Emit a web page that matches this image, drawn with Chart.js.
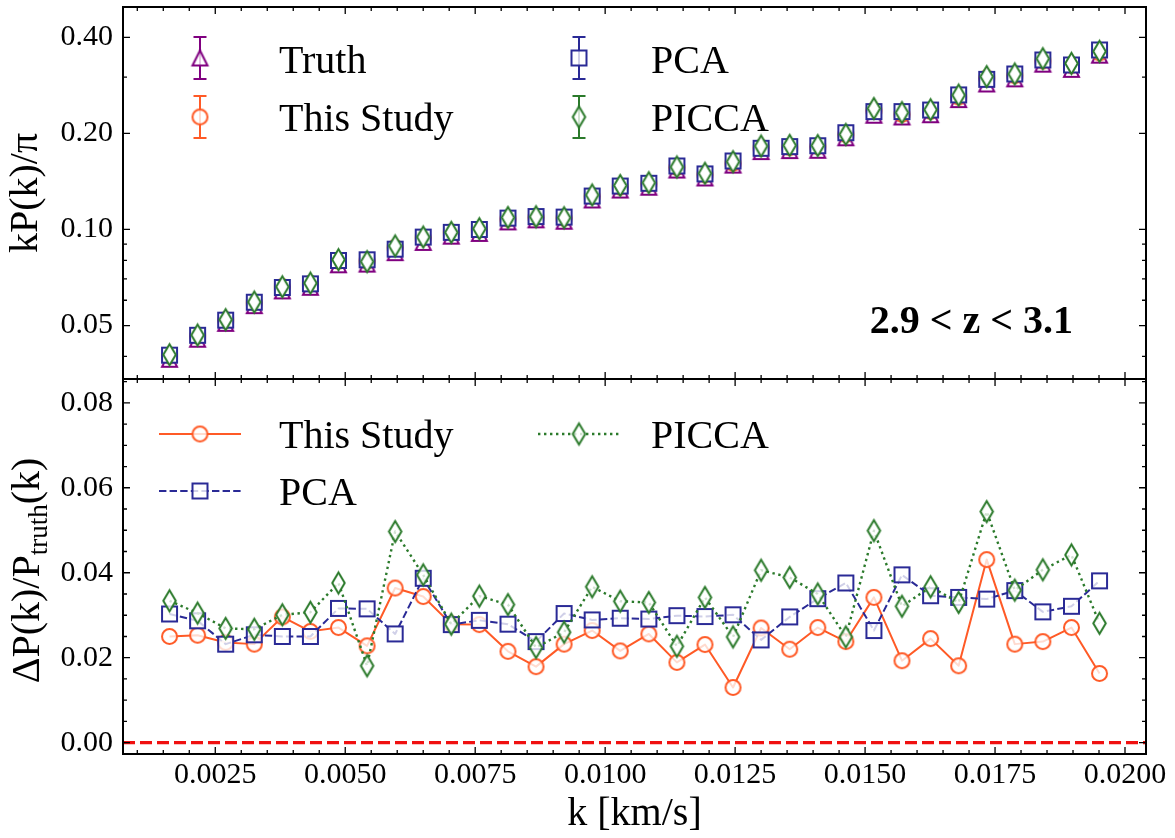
<!DOCTYPE html>
<html>
<head>
<meta charset="utf-8">
<script src="https://cdn.jsdelivr.net/npm/chart.js@4/dist/chart.umd.min.js"></script>
<style>
  html, body { margin: 0; padding: 0; background: #fff; }
  #wrap { position: relative; width: 1175px; height: 838px; }
  #wrap canvas { position: absolute; left: 0; top: 0; }
</style>
</head>
<body>
<div id="wrap">
  <canvas id="panelTop" width="1175" height="838"></canvas>
  <canvas id="panelBottom" width="1175" height="838"></canvas>
</div>
<script>
// ---- data -------------------------------------------------------------
// wavenumber bins, k [s/km]
const kBins = [0.00162, 0.00216, 0.00270, 0.00325, 0.00379, 0.00433, 0.00487, 0.00542,
               0.00596, 0.00650, 0.00704, 0.00758, 0.00813, 0.00867, 0.00921, 0.00975,
               0.01029, 0.01084, 0.01138, 0.01192, 0.01246, 0.01300, 0.01355, 0.01409,
               0.01463, 0.01517, 0.01571, 0.01626, 0.01680, 0.01734, 0.01788, 0.01842,
               0.01897, 0.01951];
// true flux power, kP(k)/pi
const kpTruth = [0.0392, 0.0453, 0.0508, 0.0577, 0.0642, 0.0659, 0.0775, 0.0779,
                 0.0846, 0.0911, 0.0953, 0.0972, 0.1056, 0.1072, 0.1061, 0.1237,
                 0.1329, 0.1356, 0.1535, 0.1450, 0.1591, 0.1754, 0.1766, 0.1770,
                 0.1937, 0.2280, 0.2251, 0.2288, 0.2552, 0.2857, 0.2964, 0.3295,
                 0.3174, 0.3516];
// fractional deviation from the truth, dP(k)/P_truth(k)
const dThisStudy = [0.0250, 0.0253, 0.0236, 0.0232, 0.0296, 0.0262, 0.0271, 0.0228,
                    0.0364, 0.0344, 0.0279, 0.0278, 0.0215, 0.0179, 0.0232, 0.0264,
                    0.0216, 0.0256, 0.0189, 0.0231, 0.0130, 0.0270, 0.0220, 0.0271,
                    0.0238, 0.0342, 0.0193, 0.0245, 0.0181, 0.0431, 0.0232, 0.0238,
                    0.0271, 0.0163];
const dPCA = [0.0303, 0.0287, 0.0232, 0.0254, 0.0250, 0.0250, 0.0316, 0.0315,
              0.0256, 0.0387, 0.0278, 0.0288, 0.0279, 0.0238, 0.0304, 0.0289,
              0.0293, 0.0291, 0.0299, 0.0297, 0.0301, 0.0242, 0.0296, 0.0339,
              0.0376, 0.0264, 0.0395, 0.0346, 0.0342, 0.0338, 0.0358, 0.0308,
              0.0321, 0.0381];
const dPICCA = [0.0334, 0.0305, 0.0269, 0.0267, 0.0301, 0.0307, 0.0376, 0.0181,
                0.0497, 0.0395, 0.0279, 0.0345, 0.0325, 0.0224, 0.0260, 0.0367,
                0.0333, 0.0330, 0.0227, 0.0342, 0.0249, 0.0406, 0.0389, 0.0350,
                0.0249, 0.0499, 0.0321, 0.0367, 0.0330, 0.0544, 0.0359, 0.0407,
                0.0442, 0.0281];
const zeroLevel = 0.0;

// ---- ticks ------------------------------------------------------------
const kTicks = [0.0025, 0.0050, 0.0075, 0.0100, 0.0125, 0.0150, 0.0175, 0.0200];
const kMinorTicks = [0.0010, 0.0015, 0.0020, 0.0030, 0.0035, 0.0040, 0.0045,
                     0.0055, 0.0060, 0.0065, 0.0070, 0.0080, 0.0085, 0.0090, 0.0095,
                     0.0105, 0.0110, 0.0115, 0.0120, 0.0130, 0.0135, 0.0140, 0.0145,
                     0.0155, 0.0160, 0.0165, 0.0170, 0.0180, 0.0185, 0.0190, 0.0195];
const kpTicks = [0.05, 0.10, 0.20, 0.40];
const kpMinorTicks = [0.04, 0.06, 0.07, 0.08, 0.09, 0.30];
const dTicks = [0.00, 0.02, 0.04, 0.06, 0.08];
const dMinorTicks = [0.005, 0.010, 0.015, 0.025, 0.030, 0.035, 0.045, 0.050, 0.055,
                     0.065, 0.070, 0.075, 0.085];

// ---- axis limits ------------------------------------------------------
const K_MIN = 0.000725, K_MAX = 0.020404;
const KP_MIN = 0.034, KP_MAX = 0.4977;
const D_MIN = -0.00266, D_MAX = 0.0856;

// ---- styling ----------------------------------------------------------
const SERIF = "'Liberation Serif', 'Times New Roman', Times, serif";
const PURPLE = '#800080';
const ORANGE = '#ff5a26';
const BLUE = '#2a2a96';
const GREEN = '#2b7a2b';
const RED = '#f01010';
const FACE_SOFT = 'rgba(255, 255, 255, 0.78)';
const FACE_SOLID = '#ffffff';

Chart.defaults.font.family = SERIF;
Chart.defaults.color = '#000';

// hollow marker glyphs rendered once and reused as point styles
function makeMarker(shape, stroke, w, h, lw, face) {
  const pad = Math.ceil(lw) + 1;
  const c = document.createElement('canvas');
  c.width = Math.round(w + 2 * pad);
  c.height = Math.round(h + 2 * pad);
  const g = c.getContext('2d');
  const cx = c.width / 2, cy = c.height / 2;
  g.lineWidth = lw;
  g.strokeStyle = stroke;
  g.fillStyle = face;
  g.lineJoin = 'miter';
  g.beginPath();
  if (shape === 'circle') {
    g.arc(cx, cy, w / 2, 0, Math.PI * 2);
  } else if (shape === 'square') {
    g.rect(cx - w / 2, cy - h / 2, w, h);
  } else if (shape === 'diamond') {
    g.moveTo(cx, cy - h / 2); g.lineTo(cx + w / 2, cy);
    g.lineTo(cx, cy + h / 2); g.lineTo(cx - w / 2, cy); g.closePath();
  } else if (shape === 'triangle') {
    g.moveTo(cx, cy - h / 2); g.lineTo(cx + w / 2, cy + h / 2);
    g.lineTo(cx - w / 2, cy + h / 2); g.closePath();
  }
  g.fill();
  g.stroke();
  return c;
}

// lower panel / legend glyphs (lines faintly visible through the faces)
const mkTruth = makeMarker('triangle', PURPLE, 15, 15, 2, FACE_SOFT);
const mkThis = makeMarker('circle', ORANGE, 15, 15, 2, FACE_SOFT);
const mkPCA = makeMarker('square', BLUE, 15, 15, 2, FACE_SOFT);
const mkPICCA = makeMarker('diamond', GREEN, 12.5, 21, 2, FACE_SOFT);
// upper panel glyphs, opaque faces so later series cover earlier ones
const pkTruth = makeMarker('triangle', PURPLE, 15, 15, 2, FACE_SOLID);
const pkThis = makeMarker('circle', ORANGE, 15, 15, 2, FACE_SOLID);
const pkPCA = makeMarker('square', BLUE, 15, 15, 2, FACE_SOLID);
const pkPICCA = makeMarker('diamond', GREEN, 12.5, 21, 2, FACE_SOLID);

const xy = (ys) => kBins.map((k, i) => ({ x: k, y: ys[i] }));
const scaled = (ds) => kpTruth.map((p, i) => p * (1 + ds[i]));

// inward ticks on all four sides plus the box frame
const frameTicks = {
  id: 'frameTicks',
  afterDatasetsDraw(chart, args, o) {
    const { ctx, chartArea: a } = chart;
    const xs = chart.scales.x, ys = chart.scales.y;
    ctx.save();
    ctx.strokeStyle = '#000';
    ctx.lineWidth = 1.3;
    ctx.beginPath();
    const xt = (vals, len) => vals.forEach(v => {
      const p = xs.getPixelForValue(v);
      ctx.moveTo(p, a.bottom); ctx.lineTo(p, a.bottom - len);
      ctx.moveTo(p, a.top); ctx.lineTo(p, a.top + len);
    });
    const yt = (vals, len) => vals.forEach(v => {
      const p = ys.getPixelForValue(v);
      ctx.moveTo(a.left, p); ctx.lineTo(a.left + len, p);
      ctx.moveTo(a.right, p); ctx.lineTo(a.right - len, p);
    });
    xt(kTicks, 7); xt(kMinorTicks, 4);
    yt(o.yMajor, 7); yt(o.yMinor, 4);
    ctx.stroke();
    ctx.lineWidth = 2;
    ctx.strokeRect(a.left, a.top, a.right - a.left, a.bottom - a.top);
    ctx.restore();
  }
};

function drawErrLegend(ctx, mk, color, x, y) {
  ctx.save();
  ctx.strokeStyle = color;
  ctx.lineWidth = 2;
  ctx.beginPath();
  ctx.moveTo(x, y - 21); ctx.lineTo(x, y + 21);
  ctx.moveTo(x - 6.5, y - 21); ctx.lineTo(x + 6.5, y - 21);
  ctx.moveTo(x - 6.5, y + 21); ctx.lineTo(x + 6.5, y + 21);
  ctx.stroke();
  ctx.drawImage(mk, x - mk.width / 2, y - mk.height / 2);
  ctx.restore();
}

function drawLineLegend(ctx, mk, color, dash, lw, x, y) {
  ctx.save();
  ctx.strokeStyle = color;
  ctx.lineWidth = lw;
  ctx.setLineDash(dash);
  ctx.beginPath();
  ctx.moveTo(x - 41, y); ctx.lineTo(x + 41, y);
  ctx.stroke();
  ctx.setLineDash([]);
  ctx.drawImage(mk, x - mk.width / 2, y - mk.height / 2);
  ctx.restore();
}

function legendText(ctx, text, x, y) {
  ctx.save();
  ctx.fillStyle = '#000';
  ctx.font = '40px ' + SERIF;
  ctx.textAlign = 'left';
  ctx.textBaseline = 'alphabetic';
  ctx.fillText(text, x, y);
  ctx.restore();
}

const topDecor = {
  id: 'topDecor',
  afterDraw(chart) {
    const ctx = chart.ctx;
    drawErrLegend(ctx, mkTruth, PURPLE, 200, 58);
    legendText(ctx, 'Truth', 279, 73);
    drawErrLegend(ctx, mkThis, ORANGE, 200, 117);
    legendText(ctx, 'This Study', 279, 131);
    drawErrLegend(ctx, mkPCA, BLUE, 579, 58);
    legendText(ctx, 'PCA', 651, 73);
    drawErrLegend(ctx, mkPICCA, GREEN, 579, 117);
    legendText(ctx, 'PICCA', 651, 131);

    ctx.save();
    ctx.fillStyle = '#000';
    ctx.font = 'bold 40px ' + SERIF;
    ctx.textAlign = 'right';
    ctx.textBaseline = 'alphabetic';
    ctx.fillText('2.9 < z < 3.1', 1073, 333);
    ctx.restore();
  }
};

const bottomDecor = {
  id: 'bottomDecor',
  afterDraw(chart) {
    const ctx = chart.ctx;
    drawLineLegend(ctx, mkThis, ORANGE, [], 2, 200, 434);
    legendText(ctx, 'This Study', 279, 448);
    drawLineLegend(ctx, mkPCA, BLUE, [7.4, 3.2], 2, 200, 491);
    legendText(ctx, 'PCA', 279, 505);
    drawLineLegend(ctx, mkPICCA, GREEN, [2.4, 3.6], 2.4, 579, 434);
    legendText(ctx, 'PICCA', 651, 448);

    // y-axis title with subscript
    const a = chart.chartArea;
    const cy = (a.top + a.bottom) / 2 + 4;
    ctx.save();
    ctx.translate(39, cy);
    ctx.rotate(-Math.PI / 2);
    ctx.fillStyle = '#000';
    ctx.textBaseline = 'alphabetic';
    ctx.textAlign = 'left';
    const big = '40px ' + SERIF, small = '27px ' + SERIF;
    const parts = [['\u0394P(k)/P', big, 0], ['truth', small, 8], ['(k)', big, 0]];
    let total = 0;
    parts.forEach(p => { ctx.font = p[1]; p.push(ctx.measureText(p[0]).width); total += p[3]; });
    let x = -total / 2;
    parts.forEach(p => { ctx.font = p[1]; ctx.fillText(p[0], x, p[2]); x += p[3]; });
    ctx.restore();
  }
};

function fixWidth(w) {
  return (s) => { s.width = w; s.paddingTop = 0; s.paddingBottom = 0; };
}
function fixHeight(h) {
  return (s) => { s.height = h; s.paddingLeft = 0; s.paddingRight = 0; };
}

const common = {
  responsive: false,
  animation: false,
  events: [],
  plugins: { legend: { display: false }, tooltip: { enabled: false } },
};

// ---- upper panel: kP(k)/pi on log axis --------------------------------
// lower `order` is drawn later, i.e. on top
new Chart(document.getElementById('panelTop'), {
  type: 'scatter',
  data: {
    datasets: [
      { label: 'Truth', order: 4, data: xy(kpTruth), pointStyle: pkTruth, pointRadius: 8, showLine: false },
      { label: 'This Study', order: 3, data: xy(scaled(dThisStudy)), pointStyle: pkThis, pointRadius: 8, showLine: false },
      { label: 'PCA', order: 2, data: xy(scaled(dPCA)), pointStyle: pkPCA, pointRadius: 8, showLine: false },
      { label: 'PICCA', order: 1, data: xy(scaled(dPICCA)), pointStyle: pkPICCA, pointRadius: 8, showLine: false },
    ]
  },
  options: {
    ...common,
    layout: { autoPadding: false, padding: { top: 7, right: 29, bottom: 459, left: 0 } },
    scales: {
      x: {
        type: 'linear', min: K_MIN, max: K_MAX,
        afterBuildTicks: (s) => { s.ticks = kTicks.map(v => ({ value: v })); },
        ticks: { display: false },
        grid: { display: false, drawTicks: false },
        border: { display: false },
        afterFit: fixHeight(0),
      },
      y: {
        type: 'logarithmic', min: KP_MIN, max: KP_MAX,
        afterBuildTicks: (s) => { s.ticks = kpTicks.map(v => ({ value: v })); },
        ticks: {
          font: { size: 30 }, color: '#000', padding: 10, autoSkip: false,
          callback: (v) => Number(v).toFixed(2),
        },
        grid: { display: false, drawTicks: false },
        border: { display: false },
        title: { display: true, text: 'kP(k)/\u03c0', font: { size: 40 }, color: '#000', padding: { top: 2, bottom: 0 } },
        afterFit: fixWidth(123),
      }
    },
    plugins: { ...common.plugins, frameTicks: { yMajor: kpTicks, yMinor: kpMinorTicks } }
  },
  plugins: [frameTicks, topDecor]
});

// ---- lower panel: fractional deviation ---------------------------------
new Chart(document.getElementById('panelBottom'), {
  type: 'scatter',
  data: {
    datasets: [
      { label: 'zero', order: 4, data: [{ x: K_MIN, y: zeroLevel }, { x: K_MAX, y: zeroLevel }],
        showLine: true, borderColor: RED, borderWidth: 3.2, borderDash: [12, 5], pointRadius: 0 },
      { label: 'This Study', order: 3, data: xy(dThisStudy), showLine: true, borderColor: ORANGE, borderWidth: 2,
        borderJoinStyle: 'round', pointStyle: mkThis, pointRadius: 8 },
      { label: 'PCA', order: 2, data: xy(dPCA), showLine: true, borderColor: BLUE, borderWidth: 2,
        borderDash: [7.4, 3.2], borderJoinStyle: 'round', pointStyle: mkPCA, pointRadius: 8 },
      { label: 'PICCA', order: 1, data: xy(dPICCA), showLine: true, borderColor: GREEN, borderWidth: 2.4,
        borderDash: [2.4, 3.6], borderJoinStyle: 'round', pointStyle: mkPICCA, pointRadius: 8 },
    ]
  },
  options: {
    ...common,
    layout: { autoPadding: false, padding: { top: 379, right: 29, bottom: 0, left: 0 } },
    scales: {
      x: {
        type: 'linear', min: K_MIN, max: K_MAX,
        afterBuildTicks: (s) => { s.ticks = kTicks.map(v => ({ value: v })); },
        ticks: {
          font: { size: 30 }, color: '#000', padding: 3, maxRotation: 0, autoSkip: false,
          callback: (v) => Number(v).toFixed(4),
        },
        grid: { display: false, drawTicks: false },
        border: { display: false },
        title: { display: true, text: 'k [km/s]', font: { size: 40 }, color: '#000', padding: { top: 0, bottom: 0 } },
        afterFit: fixHeight(84),
      },
      y: {
        type: 'linear', min: D_MIN, max: D_MAX,
        afterBuildTicks: (s) => { s.ticks = dTicks.map(v => ({ value: v })); },
        ticks: {
          font: { size: 30 }, color: '#000', padding: 10, autoSkip: false,
          callback: (v) => Number(v).toFixed(2),
        },
        grid: { display: false, drawTicks: false },
        border: { display: false },
        afterFit: fixWidth(123),
      }
    },
    plugins: { ...common.plugins, frameTicks: { yMajor: dTicks, yMinor: dMinorTicks } }
  },
  plugins: [frameTicks, bottomDecor]
});
</script>
</body>
</html>
